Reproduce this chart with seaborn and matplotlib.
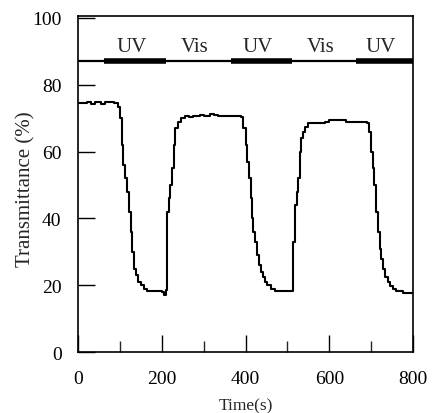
import numpy as np
import pandas as pd
import matplotlib
matplotlib.use("Agg")
import matplotlib.pyplot as plt
import seaborn as sns

# transmittance trace (time in s, transmittance in %)
time_s = [0, 20, 30, 40, 55, 65, 85, 95, 100, 104, 107, 112, 117, 121, 125, 129,
          133, 138, 143, 150, 158, 165, 185, 200, 205, 210, 212, 216, 220, 224,
          228, 232, 238, 245, 255, 265, 275, 290, 300, 315, 325, 335, 390, 395,
          400, 404, 408, 412, 415, 418, 423, 428, 432, 437, 441, 446, 452, 460,
          470, 512, 514, 518, 522, 526, 529, 533, 537, 541, 548, 560, 590, 600,
          630, 640, 660, 690, 695, 700, 704, 708, 712, 716, 720, 724, 728, 734,
          740, 746, 752, 760, 775, 800]
transmittance = [74.5, 74.8, 74.3, 74.8, 74.3, 74.8, 74.5, 73.5, 70, 62, 56, 52,
                 48, 42, 36, 30, 25, 23, 21, 20, 18.8, 18.3, 18.2, 18.0, 17.2,
                 18.5, 42, 46, 50, 55, 62, 67, 69, 70, 70.6, 70.3, 70.8, 71, 70.8,
                 71.3, 71, 70.6, 70.5, 67, 62, 57, 52, 46, 40, 36, 33, 29, 26, 24,
                 22.5, 21, 20, 18.8, 18.4, 18.4, 33, 44, 48, 52, 60, 64, 66, 67.5,
                 68.5, 68.6, 68.8, 69.4, 69.4, 69.0, 68.8, 68.5, 66, 60, 55, 50,
                 42, 36, 31, 28, 25, 22.5, 21, 19.8, 18.8, 18.2, 17.8, 17.8]

# irradiation periods
uv_start = [62, 365, 665]
uv_end = [210, 510, 800]
band_labels = ["UV", "Vis", "UV", "Vis", "UV"]
band_centers = [129, 279, 429, 580, 724]
band_level = 87

df = pd.DataFrame({"Time(s)": time_s, "Transmittance (%)": transmittance})

sns.set_theme(style="ticks")
plt.rcParams["font.family"] = ["Liberation Serif", "DejaVu Serif"]

fig = plt.figure(figsize=(4.32, 4.14), dpi=100)
ax = fig.add_axes([0.181, 0.147, 0.775, 0.812])

sns.lineplot(data=df, x="Time(s)", y="Transmittance (%)", ax=ax,
             color="black", linewidth=1.5, drawstyle="steps-post")

ax.axhline(band_level, color="black", linewidth=1.6)
for s, e in zip(uv_start, uv_end):
    ax.plot([s, e], [band_level, band_level], color="black", linewidth=4,
            solid_capstyle="butt")
for lab, c in zip(band_labels, band_centers):
    ax.text(c, band_level + 1.6, lab, ha="center", va="bottom", fontsize=15)

ax.set_xlim(0, 800)
ax.set_ylim(0, 100.6)
ax.set_xticks([0, 200, 400, 600, 800])
ax.set_xticks([100, 300, 500, 700], minor=True)
ax.set_yticks([0, 20, 40, 60, 80, 100])
ax.tick_params(axis="both", which="major", direction="in", length=12,
               width=1, labelsize=14, colors="black")
ax.tick_params(axis="x", which="major", pad=13)
ax.tick_params(axis="y", which="major", pad=12)
ax.tick_params(axis="both", which="minor", direction="in", length=8, width=1)
ax.set_xlabel("Time(s)", fontsize=12.5, labelpad=7)
ax.set_ylabel("Transmittance (%)", fontsize=15)
ax.yaxis.set_label_coords(-0.128, 0.488)
for sp in ax.spines.values():
    sp.set_color("black")
    sp.set_linewidth(1.2)

fig.savefig("out.png", dpi=100)
